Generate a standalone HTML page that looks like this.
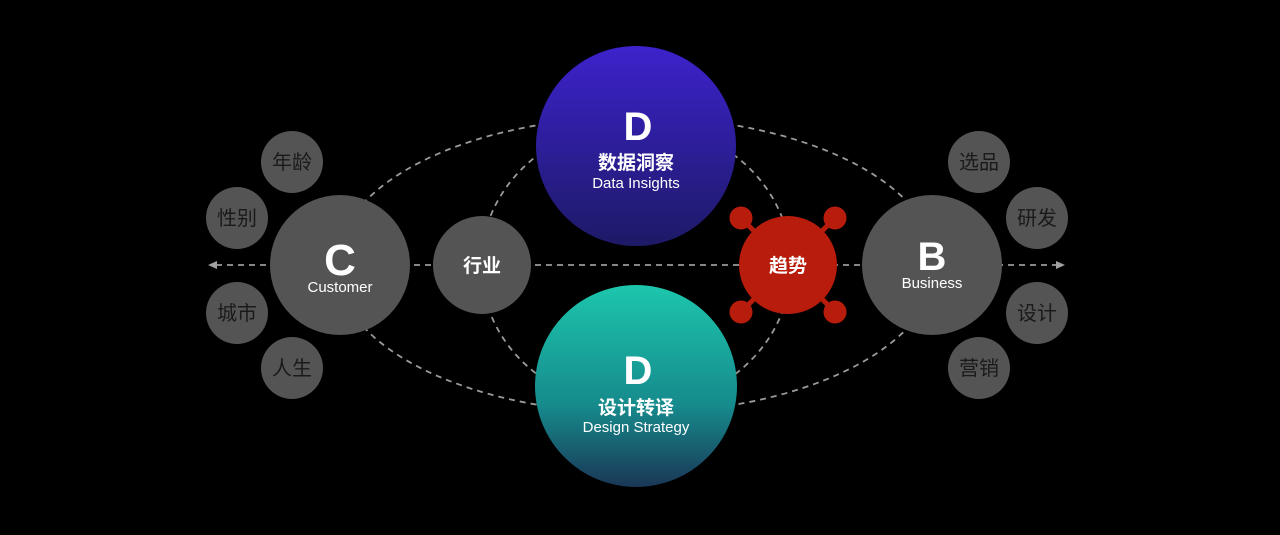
<!DOCTYPE html>
<html><head><meta charset="utf-8"><style>
html,body{margin:0;padding:0;background:#000;width:1280px;height:535px;overflow:hidden}
text{font-family:"Liberation Sans","Noto Sans CJK SC",sans-serif}
</style></head><body>
<svg width="1280" height="535" viewBox="0 0 1280 535" xmlns="http://www.w3.org/2000/svg">
<defs>
<linearGradient id="gt" x1="0" y1="0" x2="0" y2="1"><stop offset="0" stop-color="#3c22cc"/><stop offset="1" stop-color="#1d1a66"/></linearGradient>
<linearGradient id="gb" x1="0" y1="0" x2="0" y2="1"><stop offset="0" stop-color="#1dc6ad"/><stop offset="0.6" stop-color="#168a8c"/><stop offset="1" stop-color="#1a3656"/></linearGradient>
</defs>
<g fill="none" stroke="#9a9a9a" stroke-width="1.8" stroke-dasharray="6 5">
<ellipse cx="636" cy="265" rx="300" ry="148"/>
<ellipse cx="636" cy="265" rx="155" ry="142"/>
<line x1="216" y1="265" x2="1058" y2="265"/>
</g>
<polygon points="208,265 217,261 217,269" fill="#a0a0a0"/>
<polygon points="1065,265 1056,261 1056,269" fill="#a0a0a0"/>
<g fill="#545454">
<circle cx="340" cy="265" r="70"/>
<circle cx="292" cy="162" r="31"/><circle cx="237" cy="218" r="31"/>
<circle cx="237" cy="313" r="31"/><circle cx="292" cy="368" r="31"/>
<circle cx="482" cy="265" r="49"/>
<circle cx="932" cy="265" r="70"/>
<circle cx="979" cy="162" r="31"/><circle cx="1037" cy="218" r="31"/>
<circle cx="1037" cy="313" r="31"/><circle cx="979" cy="368" r="31"/>
</g>
<circle cx="636" cy="146" r="100" fill="url(#gt)"/>
<circle cx="636" cy="386" r="101" fill="url(#gb)"/>
<g fill="#b81c0c" stroke="#b81c0c" stroke-width="5">
<line x1="741" y1="218" x2="835" y2="312"/><line x1="835" y1="218" x2="741" y2="312"/>
<circle cx="788" cy="265" r="49" stroke="none"/>
<circle cx="741" cy="218" r="9"/><circle cx="835" cy="218" r="9"/>
<circle cx="741" cy="312" r="9"/><circle cx="835" cy="312" r="9"/>
</g>
<g fill="#1a1a1a" font-size="20" text-anchor="middle">
<text x="292" y="169">年龄</text><text x="237" y="225">性别</text>
<text x="237" y="320">城市</text><text x="292" y="375">人生</text>
<text x="979" y="169">选品</text><text x="1037" y="225">研发</text>
<text x="1037" y="320">设计</text><text x="979" y="375">营销</text>
</g>
<g fill="#fff" text-anchor="middle">
<text x="340" y="275" font-size="44" font-weight="bold">C</text>
<text x="340" y="292" font-size="15">Customer</text>
<text x="932" y="270" font-size="40" font-weight="bold">B</text>
<text x="932" y="288" font-size="15">Business</text>
<text x="482" y="272" font-size="19" font-weight="bold">行业</text>
<text x="788" y="272" font-size="19" font-weight="bold">趋势</text>
<text x="638" y="140" font-size="40" font-weight="bold">D</text>
<text x="636" y="169" font-size="19" font-weight="bold">数据洞察</text>
<text x="636" y="188" font-size="15">Data Insights</text>
<text x="638" y="384" font-size="40" font-weight="bold">D</text>
<text x="636" y="414" font-size="19" font-weight="bold">设计转译</text>
<text x="636" y="432" font-size="15">Design Strategy</text>
</g>
</svg>
</body></html>
